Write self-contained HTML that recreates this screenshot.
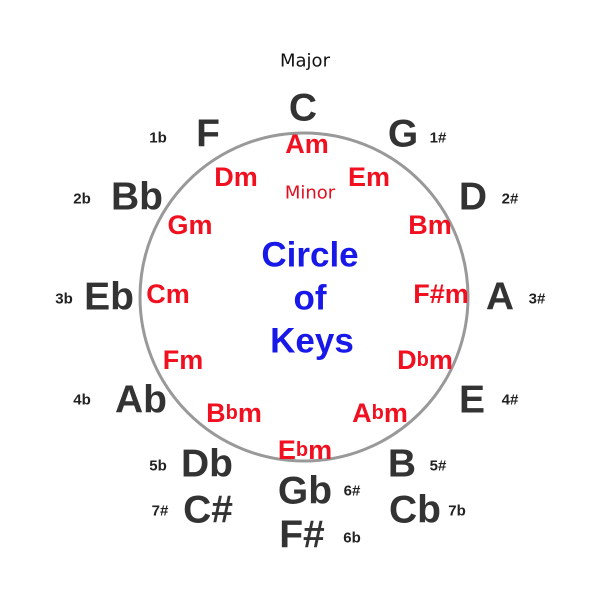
<!DOCTYPE html>
<html><head><meta charset="utf-8"><style>
html,body{margin:0;padding:0;background:#fff;width:600px;height:600px;overflow:hidden}
svg text{font-family:"Liberation Sans",Arial,sans-serif;font-weight:bold;text-anchor:middle;dominant-baseline:central}
.M{font-size:39px;fill:#333}
.n{font-size:15px;fill:#222}
.m{font-size:27px;fill:#f01020}
.c{font-size:35px;fill:#1818e8}
.h{font-family:"Comic Sans MS","DejaVu Sans",sans-serif !important;font-weight:normal !important;font-size:18px}
</style></head><body>
<svg width="600" height="600" viewBox="0 0 600 600">
<circle cx="304" cy="297" r="164" fill="none" stroke="#999" stroke-width="3"/>
<text class="h" x="305" y="61" fill="#111">Major</text>
<text class="h" x="310" y="193" fill="#e01020">Minor</text>
<g class="M">
<text x="303" y="108">C</text>
<text x="208" y="134">F</text>
<text x="403" y="134">G</text>
<text x="137" y="197">Bb</text>
<text x="473" y="197">D</text>
<text x="109" y="297">Eb</text>
<text x="500" y="297">A</text>
<text x="141" y="400">Ab</text>
<text x="472" y="400">E</text>
<text x="207" y="464">Db</text>
<text x="402" y="464">B</text>
<text x="305" y="491">Gb</text>
<text x="208" y="510">C#</text>
<text x="415" y="510">Cb</text>
<text x="302" y="535">F#</text>
</g>
<g class="n">
<text x="158" y="138">1b</text>
<text x="438" y="138">1#</text>
<text x="82" y="199">2b</text>
<text x="510" y="199">2#</text>
<text x="64" y="299">3b</text>
<text x="537" y="299">3#</text>
<text x="82" y="400">4b</text>
<text x="510" y="400">4#</text>
<text x="158" y="466">5b</text>
<text x="438" y="466">5#</text>
<text x="352" y="491">6#</text>
<text x="160" y="511">7#</text>
<text x="457" y="511">7b</text>
<text x="352" y="538">6b</text>
</g>
<g class="m">
<text x="307" y="144">Am</text>
<text x="236" y="177">Dm</text>
<text x="369" y="177">Em</text>
<text x="190" y="225">Gm</text>
<text x="430" y="225">Bm</text>
<text x="168" y="294">Cm</text>
<text x="441" y="294">F#m</text>
<text x="183" y="360">Fm</text>
<text x="425" y="360">D<tspan font-size="20">b</tspan>m</text>
<text x="234" y="413">B<tspan font-size="20">b</tspan>m</text>
<text x="380" y="413">A<tspan font-size="20">b</tspan>m</text>
<text x="305" y="450">E<tspan font-size="20">b</tspan>m</text>
</g>
<g class="c">
<text x="310" y="255">Circle</text>
<text x="310" y="298">of</text>
<text x="312" y="341">Keys</text>
</g>
</svg>
</body></html>
